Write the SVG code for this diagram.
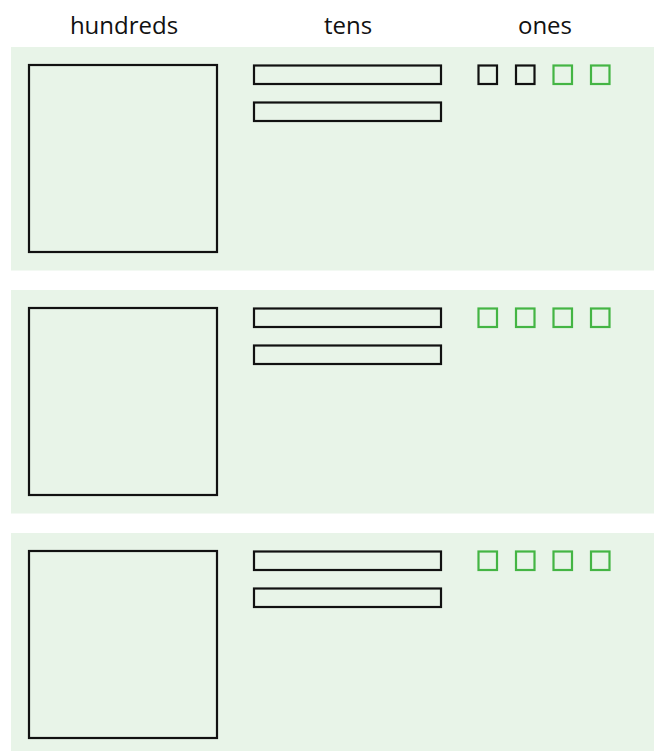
<svg xmlns="http://www.w3.org/2000/svg" width="654" height="751" viewBox="0 0 654 751">
<style>
.hdr{font-family:"Open Sans","Noto Sans",sans-serif;font-size:24px;fill:#111;text-anchor:middle}
.panel{fill:#e8f4e8}
.blk{fill:none;stroke:#111;stroke-width:2.2}
.grn{fill:none;stroke:#44b544;stroke-width:2.2}
</style>
<g id="headers">
<text class="hdr" x="124" y="34">hundreds</text>
<text class="hdr" x="348" y="34">tens</text>
<text class="hdr" x="545" y="34">ones</text>
</g>
<g id="row1">
<rect class="panel" x="11" y="47" width="643" height="223.5"/>
<rect class="blk" x="29" y="65" width="188" height="187"/>
<rect class="blk" x="254" y="65.5" width="187" height="18.5"/>
<rect class="blk" x="254" y="102.5" width="187" height="18.5"/>
<rect class="blk" x="478.5" y="65.5" width="18.5" height="18.5"/>
<rect class="blk" x="516" y="65.5" width="18.5" height="18.5"/>
<rect class="grn" x="553.5" y="65.5" width="18.5" height="18.5"/>
<rect class="grn" x="591" y="65.5" width="18.5" height="18.5"/>
</g>
<g id="row2">
<rect class="panel" x="11" y="290" width="643" height="223.5"/>
<rect class="blk" x="29" y="308" width="188" height="187"/>
<rect class="blk" x="254" y="308.5" width="187" height="18.5"/>
<rect class="blk" x="254" y="345.5" width="187" height="18.5"/>
<rect class="grn" x="478.5" y="308.5" width="18.5" height="18.5"/>
<rect class="grn" x="516" y="308.5" width="18.5" height="18.5"/>
<rect class="grn" x="553.5" y="308.5" width="18.5" height="18.5"/>
<rect class="grn" x="591" y="308.5" width="18.5" height="18.5"/>
</g>
<g id="row3">
<rect class="panel" x="11" y="533" width="643" height="223.5"/>
<rect class="blk" x="29" y="551" width="188" height="187"/>
<rect class="blk" x="254" y="551.5" width="187" height="18.5"/>
<rect class="blk" x="254" y="588.5" width="187" height="18.5"/>
<rect class="grn" x="478.5" y="551.5" width="18.5" height="18.5"/>
<rect class="grn" x="516" y="551.5" width="18.5" height="18.5"/>
<rect class="grn" x="553.5" y="551.5" width="18.5" height="18.5"/>
<rect class="grn" x="591" y="551.5" width="18.5" height="18.5"/>
</g>
<g id="connectors"/>
</svg>
